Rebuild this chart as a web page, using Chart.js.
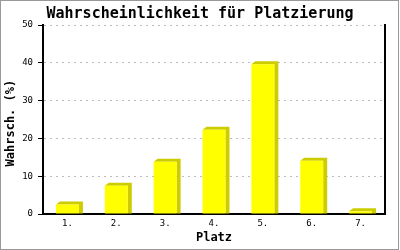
<!DOCTYPE html>
<html>
<head>
<meta charset="utf-8">
<script src="https://cdn.jsdelivr.net/npm/chart.js@4/dist/chart.umd.min.js"></script>
<style>
  html, body { margin: 0; padding: 0; background: #fff; }
  canvas { display: block; }
</style>
</head>
<body>
<canvas id="chart" width="400" height="250"></canvas>
<script>
// Data
const categories = ['1.', '2.', '3.', '4.', '5.', '6.', '7.'];
const values = [2.5, 7.5, 13.8, 22.3, 39.6, 14.1, 0.7];
const yMin = 0;
const yMax = 50;
const yStep = 10;

const titleText = 'Wahrscheinlichkeit für Platzierung';
const xTitle = 'Platz';
const yTitle = 'Wahrsch. (%) ';

// Fake 3D depth behind each bar (top and right faces)
const depthPlugin = {
    id: 'depth',
    beforeDatasetsDraw(chart) {
        const ctx = chart.ctx;
        const dx = 4, dy = 3;
        ctx.save();
        ctx.fillStyle = '#cccc00';
        chart.getDatasetMeta(0).data.forEach(bar => {
            const l = bar.x - bar.width / 2;
            const r = bar.x + bar.width / 2;
            const t = bar.y;
            const b = bar.base;
            ctx.beginPath();
            ctx.moveTo(l, t);
            ctx.lineTo(l + dx, t - dy);
            ctx.lineTo(r + dx, t - dy);
            ctx.lineTo(r + dx, b);
            ctx.lineTo(r, b);
            ctx.lineTo(r, t);
            ctx.closePath();
            ctx.fill();
        });
        ctx.restore();
    }
};

// Thin gray frame round the picture
const framePlugin = {
    id: 'frame',
    afterDraw(chart) {
        const ctx = chart.ctx;
        ctx.save();
        ctx.strokeStyle = '#999999';
        ctx.lineWidth = 1;
        ctx.strokeRect(0.5, 0.5, 398, 249);
        ctx.restore();
    }
};

Chart.defaults.font.family = "'DejaVu Sans Mono', monospace";
Chart.defaults.color = '#000';

const ctx = document.getElementById('chart').getContext('2d');
new Chart(ctx, {
    type: 'bar',
    data: {
        labels: categories,
        datasets: [{
            data: values,
            backgroundColor: '#ffff00',
            borderWidth: 0,
            barPercentage: 0.47,
            categoryPercentage: 1,
            yAxisID: 'y'
        }]
    },
    options: {
        responsive: false,
        animation: false,
        layout: { padding: 0 },
        plugins: {
            legend: { display: false },
            tooltip: { enabled: false },
            title: {
                display: true,
                text: titleText,
                color: '#000',
                font: { size: 15, weight: 'bold' },
                padding: { top: 5, bottom: 2 }
            }
        },
        scales: {
            x: {
                z: 1,
                grid: { display: false, drawTicks: false },
                border: { display: true, color: '#000', width: 2 },
                ticks: { color: '#000', font: { size: 9 }, padding: 4, maxRotation: 0 },
                title: {
                    display: true,
                    text: xTitle,
                    color: '#000',
                    font: { size: 12, weight: 'bold' },
                    padding: { top: 0, bottom: 5 }
                },
                afterFit: scale => { scale.height = 36; }
            },
            y: {
                position: 'left',
                min: yMin,
                max: yMax,
                ticks: { stepSize: yStep, color: '#000', font: { size: 9 }, padding: 5 },
                grid: {
                    color: '#bbbbbb',
                    lineWidth: 1,
                    tickColor: '#000',
                    tickLength: 5,
                    tickBorderDash: []
                },
                border: { display: true, color: '#000', width: 2, dash: [2, 4] },
                title: {
                    display: true,
                    text: yTitle,
                    color: '#000',
                    font: { size: 12, weight: 'bold' },
                    padding: { top: 4, bottom: 0 }
                },
                afterFit: scale => { scale.width = 43; }
            },
            y2: {
                position: 'right',
                min: yMin,
                max: yMax,
                ticks: { display: false },
                grid: { display: false },
                border: { display: true, color: '#000', width: 2 },
                afterFit: scale => { scale.width = 15; }
            }
        }
    },
    plugins: [depthPlugin, framePlugin]
});
</script>
</body>
</html>
